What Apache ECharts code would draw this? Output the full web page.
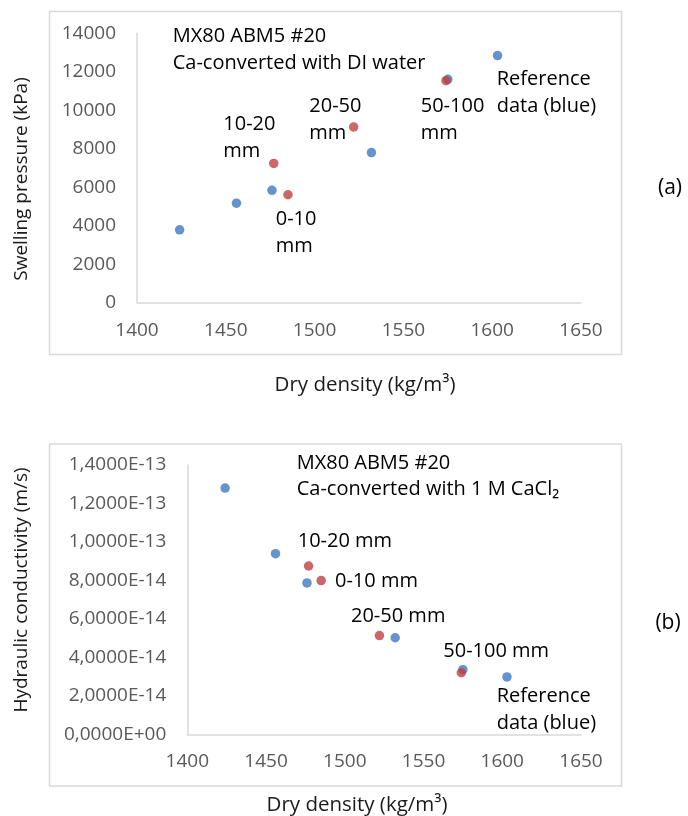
<!DOCTYPE html>
<html>
<head>
<meta charset="utf-8">
<script src="https://cdn.jsdelivr.net/npm/echarts@6/dist/echarts.min.js"></script>
<style>
  html, body { margin: 0; padding: 0; background: #ffffff; }
  #chart { width: 688px; height: 816px; }
</style>
</head>
<body>
<div id="chart"></div>
<script>
// Dry density ticks shared by both panels (kg/m³)
const densityTicks = [1400, 1450, 1500, 1550, 1600, 1650];
// Panel (a): swelling pressure ticks (kPa)
const pressureTicks = [0, 2000, 4000, 6000, 8000, 10000, 12000, 14000];
// Panel (b): hydraulic conductivity ticks (m/s)
const conductivityTicks = [0, 2e-14, 4e-14, 6e-14, 8e-14, 1e-13, 1.2e-13, 1.4e-13];

// Reference samples (blue)
const refDensity = [1424, 1456, 1476, 1532, 1575, 1603];
const refPressure = [3790, 5170, 5840, 7800, 11610, 12840];
const refConductivity = [12.80e-14, 9.39e-14, 7.87e-14, 5.02e-14, 3.36e-14, 2.98e-14];

// Ca-converted layers (red): 10-20, 0-10, 20-50, 50-100 mm
const layerDensityA = [1477, 1485, 1522, 1574];
const layerPressure = [7240, 5610, 9130, 11540];
const layerDensityB = [1477, 1485, 1522, 1574];
const layerConductivity = [8.75e-14, 7.99e-14, 5.13e-14, 3.20e-14];

const FONT = '"Open Sans", "Noto Sans", sans-serif';
const BLUE = '#3D78C0';
const RED = '#C04040';
const AXIS_GRAY = '#D9D9D9';
const TICK_GRAY = '#595959';

const pairs = (xs, ys) => xs.map((x, i) => [x, ys[i]]);

// "1,4000E-13" style labels
function sciComma(v) {
  const s = Number(v).toExponential(4);
  const [m, e] = s.split('e');
  const sign = e[0] === '-' ? '-' : '+';
  const digits = e.replace(/[+-]/, '').padStart(2, '0');
  return m.replace('.', ',') + 'E' + sign + digits;
}

function xAxis(gridIndex) {
  return {
    type: 'value', gridIndex,
    min: densityTicks[0], max: densityTicks[densityTicks.length - 1],
    interval: densityTicks[1] - densityTicks[0],
    axisLine: { show: true, lineStyle: { color: AXIS_GRAY, width: 1.5 } },
    axisTick: { show: false },
    splitLine: { show: false },
    axisLabel: { color: TICK_GRAY, fontFamily: FONT, fontSize: 19, margin: 18, formatter: v => String(v) }
  };
}

function yAxis(gridIndex, ticks, formatter) {
  return {
    type: 'value', gridIndex,
    min: ticks[0], max: ticks[ticks.length - 1],
    interval: ticks[1] - ticks[0],
    axisLine: { show: true, lineStyle: { color: AXIS_GRAY, width: 1.5 } },
    axisTick: { show: false },
    splitLine: { show: false },
    axisLabel: { color: TICK_GRAY, fontFamily: FONT, fontSize: 19, margin: 21, formatter }
  };
}

function scatter(name, xi, yi, data, color) {
  return {
    name, type: 'scatter', xAxisIndex: xi, yAxisIndex: yi,
    data, symbolSize: 9.5, itemStyle: { color }, silent: true
  };
}

function positioned(x, y, text, opts = {}) {
  return {
    type: 'text', x, y, silent: true,
    style: Object.assign({
      text, fill: '#000000', font: '20px ' + FONT,
      align: 'left', verticalAlign: 'middle'
    }, opts)
  };
}

const chart = echarts.init(document.getElementById('chart'), null, { renderer: 'canvas' });

chart.setOption({
  backgroundColor: '#ffffff',
  animation: false,
  grid: [
    { left: 137, top: 33.3, width: 444, height: 269.4 },
    { left: 187.3, top: 465, width: 393.7, height: 269.3 }
  ],
  xAxis: [xAxis(0), xAxis(1)],
  yAxis: [
    yAxis(0, pressureTicks, v => String(v)),
    yAxis(1, conductivityTicks, sciComma)
  ],
  series: [
    scatter('Reference (a)', 0, 0, pairs(refDensity, refPressure), BLUE),
    scatter('Layers (a)', 0, 0, pairs(layerDensityA, layerPressure), RED),
    scatter('Reference (b)', 1, 1, pairs(refDensity, refConductivity), BLUE),
    scatter('Layers (b)', 1, 1, pairs(layerDensityB, layerConductivity), RED)
  ],
  graphic: [
    // panel frames
    { type: 'rect', silent: true, shape: { x: 49.5, y: 11.5, width: 572, height: 343 },
      style: { fill: 'none', stroke: AXIS_GRAY, lineWidth: 1.5 } },
    { type: 'rect', silent: true, shape: { x: 49.5, y: 444, width: 572, height: 342 },
      style: { fill: 'none', stroke: AXIS_GRAY, lineWidth: 1.5 } },

    // axis titles
    positioned(365, 385, 'Dry density (kg/m³)', { align: 'center', font: '20.5px ' + FONT, fill: '#1a1a1a' }),
    positioned(357, 805, 'Dry density (kg/m³)', { align: 'center', font: '20.5px ' + FONT, fill: '#1a1a1a' }),
    { type: 'text', silent: true, x: 21.7, y: 179, rotation: Math.PI / 2,
      style: { text: 'Swelling pressure (kPa)', fill: '#1a1a1a', font: '19px ' + FONT, align: 'center', verticalAlign: 'middle' } },
    { type: 'text', silent: true, x: 21.7, y: 590, rotation: Math.PI / 2,
      style: { text: 'Hydraulic conductivity (m/s)', fill: '#1a1a1a', font: '19px ' + FONT, align: 'center', verticalAlign: 'middle' } },

    // panel tags
    positioned(670, 188, '(a)', { align: 'center', font: '21px ' + FONT }),
    positioned(668, 623, '(b)', { align: 'center', font: '21px ' + FONT }),

    // panel (a) annotations
    positioned(172.7, 36.7, 'MX80 ABM5 #20'),
    positioned(172.7, 63.3, 'Ca-converted with DI water'),
    positioned(223.3, 124.3, '10-20'),
    positioned(223.3, 151.7, 'mm'),
    positioned(309.3, 106, '20-50'),
    positioned(309.3, 133.3, 'mm'),
    positioned(420.7, 106, '50-100'),
    positioned(420.7, 133.3, 'mm'),
    positioned(496.7, 79.3, 'Reference'),
    positioned(496.7, 106, 'data (blue)'),
    positioned(275.7, 219.3, '0-10'),
    positioned(275.7, 246.7, 'mm'),

    // panel (b) annotations
    positioned(296.7, 463.3, 'MX80 ABM5 #20'),
    positioned(296.7, 489.3, 'Ca-converted with 1 M CaCl₂'),
    positioned(297.7, 541.7, '10-20 mm'),
    positioned(335, 581.7, '0-10 mm'),
    positioned(351, 616, '20-50 mm'),
    positioned(443.3, 651, '50-100 mm'),
    positioned(496.7, 696.7, 'Reference'),
    positioned(496.7, 723.3, 'data (blue)')
  ]
});
</script>
</body>
</html>
